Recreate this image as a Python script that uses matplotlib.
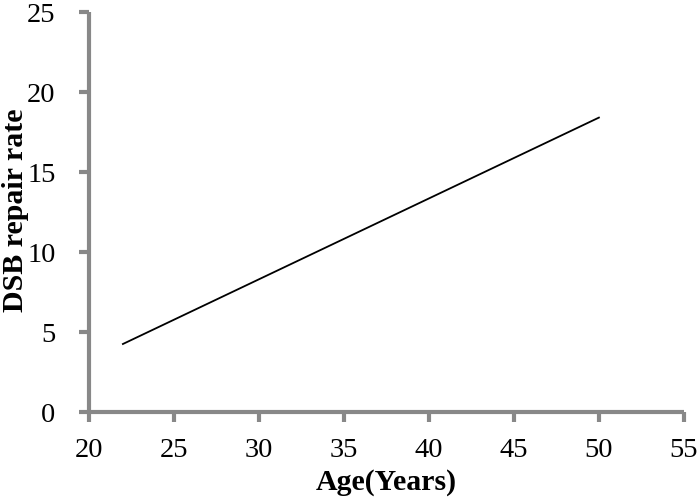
import matplotlib
matplotlib.use("Agg")
import matplotlib.pyplot as plt

age = [22, 50]
dsb_rate = [4.25, 18.4]
xticks = [20, 25, 30, 35, 40, 45, 50, 55]
yticks = [0, 5, 10, 15, 20, 25]

plt.rcParams['font.family'] = ['Liberation Serif', 'DejaVu Serif']

fig = plt.figure(figsize=(7, 5), dpi=100)
ax = fig.add_axes([0.127, 0.176, 0.850, 0.800])
ax.plot(age, dsb_rate, color='black', linewidth=1.3)
ax.set_xlim(20, 55)
ax.set_ylim(0, 25)
ax.set_xticks(xticks)
ax.set_yticks(yticks)
for s in ['top', 'right']:
    ax.spines[s].set_visible(False)
for s in ['left', 'bottom']:
    ax.spines[s].set_color('#888888')
    ax.spines[s].set_linewidth(3)
    ax.spines[s].set_capstyle('butt')
ax.tick_params(axis='both', direction='out', length=7, width=3, color='#888888',
               labelsize=20.5)
ax.tick_params(axis='x', pad=12)
ax.tick_params(axis='y', pad=17)
ax.set_xlabel('Age(Years)', fontsize=21.5, fontweight='bold', labelpad=4)
fig.text(16 / 700, 1 - 210 / 500, 'DSB repair rate', rotation=90,
         ha='center', va='center', fontsize=21.5, fontweight='bold')
fig.savefig('out.png', dpi=100)
